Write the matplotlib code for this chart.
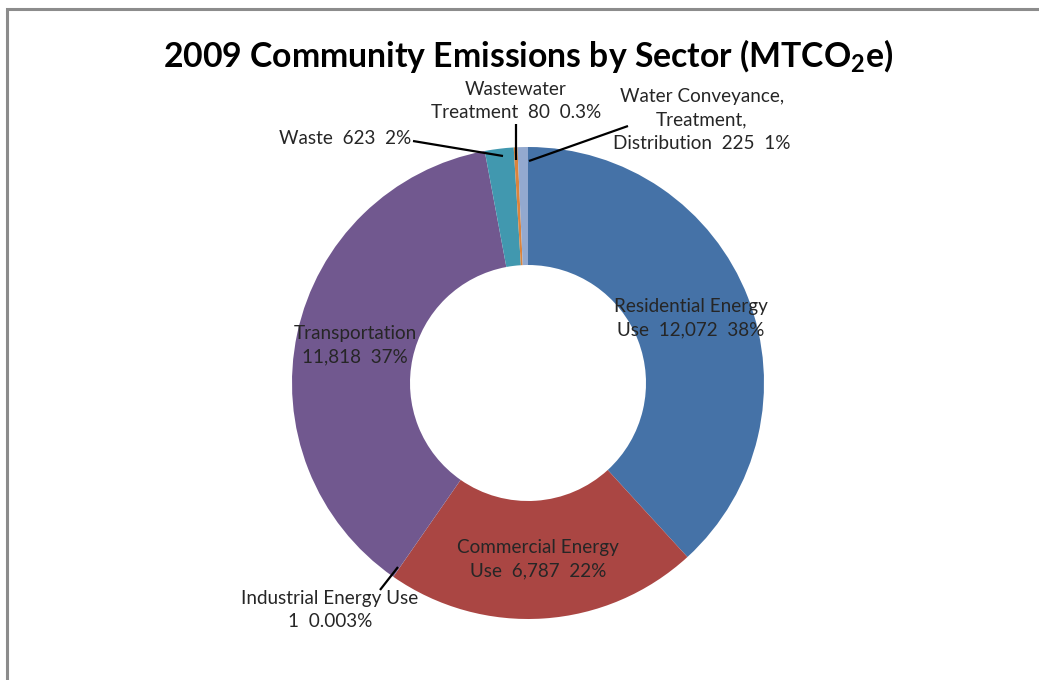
import matplotlib.pyplot as plt
from matplotlib.patches import Rectangle

plt.rcParams['font.family'] = ['Lato', 'DejaVu Sans']
plt.rcParams['mathtext.fontset'] = 'custom'
plt.rcParams['mathtext.rm'] = 'Lato'
plt.rcParams['mathtext.bf'] = 'Lato:bold'

# sectors, clockwise from 12 o'clock
sectors = ["Residential Energy Use", "Commercial Energy Use", "Industrial Energy Use",
           "Transportation", "Waste", "Wastewater Treatment",
           "Water Conveyance, Treatment, Distribution"]
emissions = [12072, 6787, 1, 11818, 623, 80, 225]
pct_labels = ["38%", "22%", "0.003%", "37%", "2%", "0.3%", "1%"]
colors = ["#4572a7", "#aa4643", "#89a54e", "#71588f", "#4198af", "#db843d", "#93a9cf"]

W, H = 1039, 680
fig = plt.figure(figsize=(W / 100, H / 100), dpi=100)
ax = fig.add_axes([0, 0, 1, 1])

cx, cy, r = 528, H - 383, 236
ax.pie(emissions, colors=colors, startangle=90, counterclock=False,
       center=(cx, cy), radius=r, frame=True,
       wedgeprops=dict(width=r * 0.5, linewidth=0))
ax.set_xlim(0, W)
ax.set_ylim(0, H)
ax.set_aspect('equal')
ax.axis('off')

# chart border
ax.add_patch(Rectangle((7, -20), W + 40, H - 9 + 20, fill=False,
                       edgecolor="#8c8c8c", linewidth=2.2, clip_on=False))

ax.text(528, H - 56, "2009 Community Emissions by Sector (MTCO$_\\mathbf{2}$e)",
        ha='center', va='center', fontsize=24.3, fontweight='bold', color='black')


def fmt(v):
    return f"{v:,}"


lab = dict(fontsize=13.6, color="#262626", linespacing=1.45)
y = lambda v: H - v

ax.text(691, y(318), f"Residential Energy\nUse  {fmt(emissions[0])}  {pct_labels[0]}",
        ha='center', va='center', **lab)
ax.text(538, y(559), f"Commercial Energy\nUse  {fmt(emissions[1])}  {pct_labels[1]}",
        ha='center', va='center', **lab)
ax.text(330, y(610), f"Industrial Energy Use\n{fmt(emissions[2])}  {pct_labels[2]}",
        ha='center', va='center', **lab)
ax.text(355, y(345), f"Transportation\n{fmt(emissions[3])}  {pct_labels[3]}",
        ha='center', va='center', **lab)
ax.text(411, y(139), f"Waste  {fmt(emissions[4])}  {pct_labels[4]}",
        ha='right', va='center', **lab)
ax.text(516, y(101), f"Wastewater\nTreatment  {fmt(emissions[5])}  {pct_labels[5]}",
        ha='center', va='center', **lab)
ax.text(702, y(120), f"Water Conveyance,\nTreatment,\nDistribution  {fmt(emissions[6])}  {pct_labels[6]}",
        ha='center', va='center', **lab)

# leader lines
leaders = [((413, 141), (503, 156)),
           ((516, 124), (516, 160)),
           ((628, 126), (529, 161)),
           ((380, 590), (398, 567))]
for (x0, y0), (x1, y1) in leaders:
    ax.plot([x0, x1], [y(y0), y(y1)], color='black', lw=1.6, solid_capstyle='butt')

fig.savefig("out.png", dpi=100)
